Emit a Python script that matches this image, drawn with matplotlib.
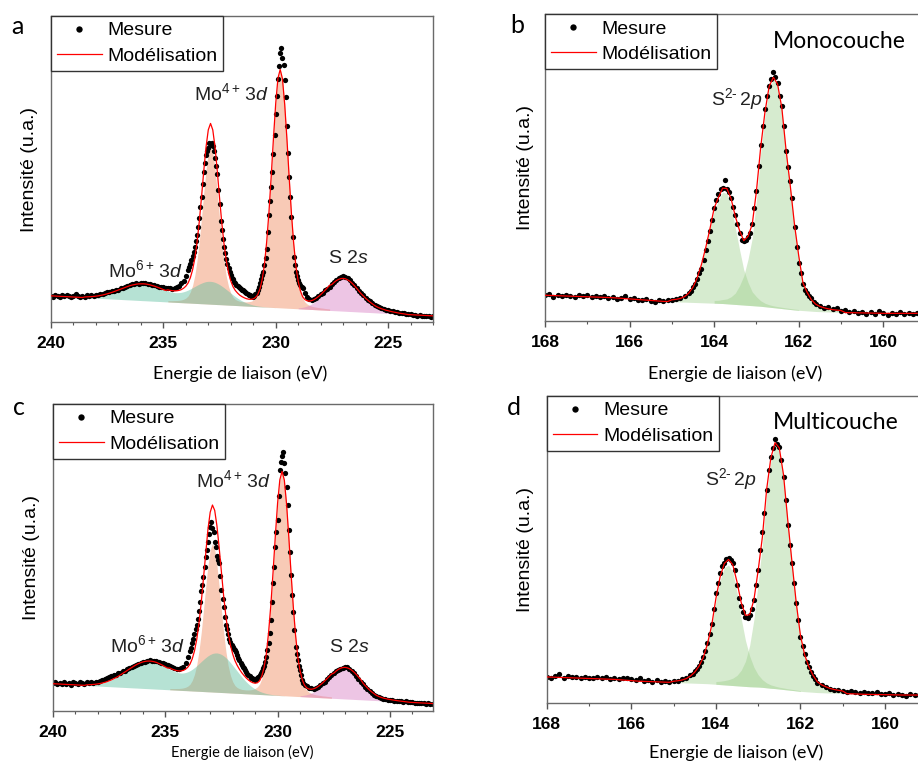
import matplotlib
matplotlib.use('Agg')
import matplotlib.pyplot as plt
from matplotlib.ticker import MultipleLocator
import numpy as np

plt.rcParams['font.family'] = 'Liberation Sans'
plt.rcParams['mathtext.fontset'] = 'custom'
plt.rcParams['mathtext.rm'] = 'Liberation Sans'
plt.rcParams['mathtext.it'] = 'Liberation Sans:italic'

W, H = 918, 764

# ---- energy grids (eV) ----
E_MO = np.arange(2400, 2229, -1) / 10                      # 240.0 -> 223.0, fit grid
E_MO_MEAS = np.concatenate([np.arange(2400, 2338, -1) / 10,   # 240.0 -> 233.9
                            np.arange(23385, 22880, -5) / 100,  # 233.85 -> 228.85
                            np.arange(2288, 2229, -1) / 10])    # 228.8 -> 223.0
E_S = np.arange(1680, 1591, -1) / 10                        # 168.0 -> 159.2, fit grid
E_S_MEAS = np.concatenate([np.arange(1680, 1646, -1) / 10,   # 168.0 -> 164.7
                           np.arange(16460, 16155, -5) / 100,  # 164.60 -> 161.60
                           np.arange(1615, 1591, -1) / 10])    # 161.5 -> 159.2

# ---- panel a : Mo 3d monolayer (intensity in % of axis height) ----
MEAS_A = [8.6, 8.3, 8.8, 8.5, 8.2, 8.7, 8.4, 8.9, 8.5, 8.2,
          8.6, 9.0, 8.4, 8.1, 8.5, 8.3, 8.7, 8.4, 8.8, 8.6,
          8.9, 8.8, 9.2, 9.1, 9.5, 9.7, 9.9, 10.1, 10.2, 10.5,
          10.6, 11.0, 11.2, 11.5, 11.8, 12.1, 12.3, 12.5, 12.6, 12.5,
          12.8, 12.6, 12.7, 12.4, 12.4, 12.1, 12.0, 11.7, 11.6, 11.4,
          11.3, 11.1, 11.0, 11.1, 10.9, 11.2, 11.5, 11.9, 12.6, 13.5,
          15.0, 17.0,
          18.0, 19.0, 20.2, 21.5, 23.0, 24.5, 26.5, 28.5, 31.0, 34.0,
          37.5, 41.0, 45.0, 49.0, 52.0, 54.5, 56.0, 57.0, 58.4, 58.0,
          58.6, 57.5, 56.0, 53.5, 51.0, 48.5, 43.0, 38.5, 33.0, 30.0,
          27.0, 24.5, 22.5, 20.5, 19.0, 17.5, 16.5, 15.5, 14.5, 14.0,
          13.2, 12.6, 12.2, 11.8, 11.4, 11.1, 10.8, 10.5, 10.3, 10.0,
          9.7, 9.4, 9.1, 8.9, 8.7, 8.5, 8.4, 8.3, 8.5, 9.0,
          9.6, 10.3, 11.3, 12.6, 14.0, 15.5, 16.5, 18.5, 21.0, 24.0,
          29.5, 35.0, 39.5, 44.0, 49.0, 55.0, 61.0, 68.0, 74.0, 79.5,
          83.5, 87.8, 89.4, 86.2, 84.0, 79.0, 73.5, 64.0, 55.1, 47.5,
          40.9, 34.4, 27.9, 21.3, 18.5, 16.5, 15.0, 13.7, 12.8, 12.0,
          11.4,
          11.0, 9.6, 8.2, 7.5, 7.2, 7.4, 7.9, 8.4, 9.0, 9.6,
          10.3, 10.9, 11.6, 12.3, 13.0, 13.7, 14.3, 14.8, 14.9, 14.7,
          14.3, 13.6, 12.8, 12.0, 11.1, 10.2, 9.5, 8.8, 8.0, 7.3,
          6.7, 6.1, 5.6, 5.2, 4.9, 4.5, 4.3, 4.0, 3.9, 3.6,
          3.5, 3.2, 3.3, 3.0, 2.8, 2.9, 2.6, 2.5, 2.6, 2.3,
          2.4, 2.1, 2.2, 2.0, 1.9, 2.1, 1.8, 1.7, 1.9]
BASE_A = [8.55, 8.51, 8.47, 8.43, 8.40, 8.36, 8.32, 8.28, 8.24, 8.20,
          8.17, 8.13, 8.09, 8.05, 8.01, 7.97, 7.94, 7.90, 7.86, 7.82,
          7.78, 7.74, 7.71, 7.67, 7.63, 7.59, 7.55, 7.51, 7.47, 7.44,
          7.40, 7.36, 7.32, 7.28, 7.24, 7.21, 7.17, 7.13, 7.09, 7.05,
          7.01, 6.97, 6.94, 6.90, 6.86, 6.82, 6.78, 6.74, 6.71, 6.67,
          6.63, 6.59, 6.55, 6.51, 6.47, 6.44, 6.40, 6.36, 6.32, 6.28,
          6.24, 6.21, 6.17, 6.13, 6.09, 6.05, 6.01, 5.97, 5.94, 5.90,
          5.86, 5.82, 5.78, 5.74, 5.70, 5.67, 5.63, 5.59, 5.55, 5.51,
          5.47, 5.44, 5.40, 5.36, 5.32, 5.28, 5.24, 5.20, 5.17, 5.13,
          5.09, 5.05, 5.01, 4.97, 4.94, 4.90, 4.86, 4.82, 4.78, 4.74,
          4.70, 4.67, 4.63, 4.59, 4.55, 4.51, 4.47, 4.44, 4.40, 4.36,
          4.32, 4.28, 4.24, 4.20, 4.17, 4.13, 4.09, 4.05, 4.01, 3.97,
          3.93, 3.90, 3.86, 3.82, 3.78, 3.74, 3.70, 3.67, 3.63, 3.59,
          3.55, 3.51, 3.47, 3.43, 3.40, 3.36, 3.32, 3.28, 3.24, 3.20,
          3.16, 3.13, 3.09, 3.05, 3.01, 2.97, 2.93, 2.90, 2.86, 2.82,
          2.78, 2.74, 2.70, 2.66, 2.63, 2.59, 2.55, 2.51, 2.47, 2.43,
          2.39, 2.36, 2.32, 2.28, 2.24, 2.20, 2.16, 2.13, 2.09, 2.05,
          2.01]
MO6_A_START = 238.5
MO6_A = [0.21, 0.27, 0.34, 0.43, 0.53, 0.66, 0.80, 0.97, 1.16, 1.37,
         1.61, 1.86, 2.14, 2.44, 2.75, 3.07, 3.40, 3.72, 4.04, 4.35,
         4.63, 4.88, 5.09, 5.27, 5.40, 5.47, 5.51, 5.48, 5.41, 5.29,
         5.13, 4.94, 4.72, 4.48, 4.22, 3.97, 3.74, 3.53, 3.37, 3.25,
         3.18, 3.18, 3.25, 3.38, 3.61, 3.89, 4.23, 4.63, 5.07, 5.51,
         5.96, 6.38, 6.75, 7.06, 7.31, 7.44, 7.47, 7.39, 7.22, 6.93,
         6.56, 6.11, 5.62, 5.08, 4.54, 3.97, 3.43, 2.92, 2.45, 2.01,
         1.64, 1.32, 1.04, 0.81, 0.62, 0.46, 0.34, 0.25, 0.18, 0.13,
         0.09, 0.06, 0.04, 0.03, 0.02, 0.01]
MO4_A_START = 234.8
MO4_A = [0.43, 0.46, 0.51, 0.57, 0.63, 0.73, 0.89, 1.15, 1.57, 2.29,
         3.64, 5.80, 9.15, 14.1, 20.5, 28.2, 36.5, 44.0, 49.5, 51.6,
         49.6, 44.2, 36.7, 28.4, 20.7, 14.3, 9.42, 6.11, 3.98, 2.68,
         2.00, 1.66, 1.44, 1.37, 1.35, 1.37, 1.47, 1.65, 2.01, 2.60,
         3.66, 5.65, 8.90, 13.9, 21.4, 31.1, 42.8, 55.3, 66.7, 75.0,
         77.9, 74.9, 66.6, 55.2, 42.7, 31.0, 21.3, 13.8, 8.73, 5.45,
         3.43, 2.34, 1.70, 1.31, 1.08, 0.92, 0.84, 0.76, 0.68, 0.63,
         0.56, 0.52, 0.48]
S2S_A_START = 229.0
S2S_A = [0.29, 0.41, 0.57, 0.78, 1.06, 1.39, 1.82, 2.32, 2.91, 3.58,
         4.33, 5.14, 5.99, 6.87, 7.73, 8.53, 9.26, 9.87, 10.3, 10.6,
         10.7, 10.6, 10.3, 9.87, 9.26, 8.53, 7.73, 6.87, 6.0, 5.3,
         4.6, 4.0, 3.4, 2.9, 2.4, 2.0, 1.7, 1.45, 1.25, 1.05,
         0.9, 0.75, 0.62, 0.5, 0.4, 0.3, 0.22, 0.15, 0.1]

# ---- panel c : Mo 3d multilayer ----
MEAS_C = [8.9, 9.3, 8.6, 9.1, 8.8, 9.4, 8.7, 9.0, 8.5, 9.2,
          8.9, 8.6, 9.3, 9.0, 8.8, 9.4, 9.1, 9.3, 9.0, 9.5,
          9.4, 9.8, 10.0, 10.4, 10.6, 10.9, 11.2, 11.5, 11.8, 12.2,
          12.4, 12.8, 13.1, 13.5, 13.8, 14.2, 14.5, 14.9, 15.2, 15.5,
          15.8, 16.0, 16.2, 16.4, 16.3, 16.2, 16.1, 15.8, 15.6, 15.4,
          15.1, 14.8, 14.5, 14.2, 13.9, 13.6, 13.6, 13.8, 14.4, 15.4,
          17.5, 19.5,
          20.5, 22.0, 23.5, 25.0, 26.5, 28.0, 30.0, 32.5, 35.5, 39.0,
          41.0, 43.5, 47.0, 50.0, 52.5, 55.0, 57.5, 60.0, 61.6, 59.5,
          58.4, 55.0, 53.5, 50.5, 49.1, 48.0, 44.0, 39.4, 36.5, 33.9,
          30.5, 28.0, 26.5, 25.0, 23.5, 22.5, 21.5, 20.8, 20.2, 19.8,
          19.0, 18.0, 17.2, 16.5, 15.7, 15.0, 14.4, 13.8, 13.2, 12.6,
          12.1, 11.6, 11.2, 10.8, 10.5, 10.3, 10.2, 10.1, 10.3, 10.6,
          11.1, 11.8, 12.3, 13.0, 13.8, 14.6, 16.0, 17.5, 19.8, 22.0,
          25.2, 29.6, 35.5, 41.5, 47.0, 53.5, 58.4, 62.2, 70.0, 78.5,
          81.0, 83.0, 84.5, 80.9, 77.6, 73.0, 67.0, 58.9, 51.8, 44.2,
          37.7, 32.3, 26.3, 20.9, 18.5, 16.5, 14.5, 13.3, 11.5, 10.0,
          8.9,
          8.3, 7.9, 7.5, 7.3, 7.2, 7.4, 7.8, 8.3, 8.9, 9.5,
          10.2, 10.9, 11.5, 12.2, 12.8, 13.3, 13.7, 14.0, 14.2, 14.1,
          13.6, 13.0, 12.2, 11.3, 10.4, 9.5, 8.6, 7.8, 7.0, 6.3,
          5.7, 5.2, 4.7, 4.4, 4.1, 3.9, 3.7, 3.6, 3.5, 3.4,
          3.3, 3.2, 3.1, 3.0, 2.9, 3.0, 2.8, 2.8, 2.7, 2.6,
          2.5, 2.6, 2.4, 2.4, 2.3, 2.4, 2.2, 2.3, 2.2]
BASE_C = [8.80, 8.76, 8.72, 8.69, 8.65, 8.61, 8.57, 8.53, 8.49, 8.46,
          8.42, 8.38, 8.34, 8.30, 8.27, 8.23, 8.19, 8.15, 8.11, 8.07,
          8.04, 8.00, 7.96, 7.92, 7.88, 7.85, 7.81, 7.77, 7.73, 7.69,
          7.65, 7.62, 7.58, 7.54, 7.50, 7.46, 7.42, 7.39, 7.35, 7.31,
          7.27, 7.23, 7.20, 7.16, 7.12, 7.08, 7.04, 7.00, 6.97, 6.93,
          6.89, 6.85, 6.81, 6.78, 6.74, 6.70, 6.66, 6.62, 6.58, 6.55,
          6.51, 6.47, 6.43, 6.39, 6.35, 6.32, 6.28, 6.24, 6.20, 6.16,
          6.13, 6.09, 6.05, 6.01, 5.97, 5.93, 5.90, 5.86, 5.82, 5.78,
          5.74, 5.70, 5.67, 5.63, 5.59, 5.55, 5.51, 5.48, 5.44, 5.40,
          5.36, 5.32, 5.28, 5.25, 5.21, 5.17, 5.13, 5.09, 5.06, 5.02,
          4.98, 4.94, 4.90, 4.86, 4.83, 4.79, 4.75, 4.71, 4.67, 4.63,
          4.60, 4.56, 4.52, 4.48, 4.44, 4.41, 4.37, 4.33, 4.29, 4.25,
          4.21, 4.18, 4.14, 4.10, 4.06, 4.02, 3.99, 3.95, 3.91, 3.87,
          3.83, 3.79, 3.76, 3.72, 3.68, 3.64, 3.60, 3.57, 3.53, 3.49,
          3.45, 3.41, 3.37, 3.34, 3.30, 3.26, 3.22, 3.18, 3.15, 3.11,
          3.07, 3.03, 2.99, 2.95, 2.92, 2.88, 2.84, 2.80, 2.76, 2.73,
          2.69, 2.65, 2.61, 2.57, 2.53, 2.50, 2.46, 2.42, 2.38, 2.34,
          2.30]
MO6_C_START = 238.5
MO6_C = [0.21, 0.27, 0.35, 0.44, 0.56, 0.70, 0.87, 1.08, 1.31, 1.58,
         1.89, 2.24, 2.63, 3.05, 3.50, 4.00, 4.50, 5.03, 5.56, 6.09,
         6.62, 7.11, 7.57, 7.98, 8.33, 8.63, 8.84, 8.98, 9.03, 9.00,
         8.89, 8.71, 8.44, 8.15, 7.80, 7.44, 7.06, 6.69, 6.35, 6.07,
         5.85, 5.71, 5.66, 5.72, 5.89, 6.18, 6.58, 7.07, 7.66, 8.32,
         9.02, 9.74, 10.45, 11.12, 11.72, 12.20, 12.57, 12.76, 12.82, 12.69,
         12.43, 11.98, 11.41, 10.71, 9.91, 9.05, 8.15, 7.24, 6.35, 5.49,
         4.69, 3.94, 3.26, 2.67, 2.16, 1.71, 1.35, 1.04, 0.79, 0.60,
         0.44, 0.33, 0.23, 0.17, 0.11, 0.09, 0.06, 0.04, 0.03]
MO4_C_START = 234.8
MO4_C = [0.41, 0.44, 0.48, 0.54, 0.59, 0.69, 0.84, 1.08, 1.48, 2.15,
         3.42, 5.44, 8.58, 13.2, 19.2, 26.5, 34.2, 41.3, 46.4, 48.4,
         46.5, 41.4, 34.4, 26.7, 19.4, 13.4, 8.82, 5.72, 3.73, 2.51,
         1.88, 1.55, 1.35, 1.29, 1.26, 1.28, 1.38, 1.56, 1.89, 2.44,
         3.43, 5.31, 8.34, 13.0, 20.1, 29.2, 40.1, 51.9, 62.6, 70.3,
         73.1, 70.3, 62.5, 51.8, 40.0, 29.1, 20.0, 12.9, 8.18, 5.12,
         3.22, 2.19, 1.60, 1.24, 1.01, 0.86, 0.79, 0.72, 0.63, 0.59,
         0.53, 0.49, 0.45]
S2S_C_START = 229.0
S2S_C = [0.28, 0.39, 0.55, 0.75, 1.02, 1.34, 1.75, 2.24, 2.80, 3.45,
         4.17, 4.94, 5.77, 6.61, 7.44, 8.21, 8.91, 9.50, 9.93, 10.2,
         10.3, 10.2, 9.93, 9.50, 8.91, 8.21, 7.44, 6.61, 5.5, 4.7,
         4.0, 3.3, 2.7, 2.2, 1.7, 1.4, 1.15, 0.95, 0.8, 0.68,
         0.58, 0.5, 0.42, 0.35, 0.28, 0.22, 0.16, 0.11, 0.07]

# ---- panel b : S 2p monolayer ----
MEAS_B = [8.6, 8.9, 7.9, 8.4, 8.0, 8.6, 8.3, 7.9, 8.5, 8.1,
          8.4, 7.8, 8.2, 7.7, 8.0, 7.6, 7.9, 7.2, 7.6, 8.0,
          7.3, 7.5, 7.0, 6.9, 7.3, 6.6, 6.2, 6.8, 6.5, 6.9,
          7.0, 7.3, 7.5, 8.1,
          9.0, 9.8, 11.0, 12.0, 13.6, 15.5, 17.0, 20.0, 23.0, 26.0,
          29.5, 33.0, 37.0, 39.5, 41.5, 43.0, 43.5, 46.0, 43.0, 42.0,
          40.0, 37.3, 34.5, 31.5, 28.6, 26.5, 26.0, 26.4, 27.5, 28.6,
          31.5, 37.0, 42.5, 50.5, 57.5, 63.5, 69.0, 73.5, 76.5, 79.0,
          81.3, 79.5, 77.5, 73.5, 70.0, 63.5, 55.5, 50.3, 45.5, 40.0,
          30.7, 24.2, 19.0, 15.5, 12.0, 10.0, 9.0, 8.0, 7.4, 6.3,
          5.4,
          5.0, 4.3, 4.6, 3.9, 4.1, 3.2, 3.5, 2.9, 3.2, 2.6,
          3.0, 2.4, 2.8, 2.3, 3.3, 2.5, 2.1, 2.7, 2.4, 2.9,
          2.3, 2.6, 2.2, 2.5]
BASE_B = [8.4, 8.35, 8.3, 8.25, 8.2, 8.15, 8.1, 8.05, 8.0, 7.95,
          7.9, 7.85, 7.8, 7.75, 7.7, 7.65, 7.6, 7.5, 7.4, 7.3,
          7.2, 7.1, 7.0, 6.9, 6.8, 6.7, 6.6, 6.5, 6.4, 6.35,
          6.3, 6.25, 6.2, 6.15, 6.1, 6.05, 6.0, 5.95, 5.9, 5.85,
          5.8, 5.75, 5.7, 5.6, 5.5, 5.4, 5.3, 5.2, 5.1, 5.0,
          4.9, 4.8, 4.65, 4.5, 4.35, 4.2, 4.05, 3.9, 3.75, 3.6,
          3.5, 3.4, 3.3, 3.2, 3.1, 3.05, 3.0, 2.95, 2.9, 2.85,
          2.8, 2.75, 2.7, 2.7, 2.65, 2.65, 2.6, 2.6, 2.55, 2.55,
          2.5, 2.5, 2.5, 2.5, 2.5, 2.5, 2.5, 2.5, 2.5]
S2P12_B_START = 165.0
S2P12_B = [0.6, 0.8, 1.15, 1.8, 3.0, 5.0, 8.1, 12.5, 18.0, 24.2,
           30.1, 33.5, 36.3, 36.0, 32.0, 25.0, 18.0, 11.5, 7.5, 4.5,
           3.0, 1.8, 1.15, 0.8, 0.6, 0.5, 0.43, 0.36, 0.32, 0.29,
           0.25]
S2P32_B_START = 164.0
S2P32_B = [0.9, 1.0, 1.3, 1.6, 2.4, 3.7, 6.2, 9.5, 15.0, 22.0,
           34.5, 50.0, 62.2, 71.2, 74.5, 72.5, 65.0, 51.5, 40.0, 27.5,
           17.5, 9.0, 6.0, 3.7, 2.4, 1.7, 1.3, 1.0, 0.8, 0.7,
           0.6]

# ---- panel d : S 2p multilayer ----
MEAS_D = [8.5, 8.2, 8.7, 9.5, 8.0, 8.6, 8.3, 8.4, 8.1, 8.5,
          8.2, 7.9, 8.3, 8.0, 8.4, 7.8, 8.1, 7.7, 8.0, 7.9,
          7.6, 7.5, 7.9, 7.2, 7.4, 6.9, 7.3, 6.6, 7.1, 6.8,
          7.0, 7.2, 7.6, 8.0,
          8.9, 9.4, 10.2, 11.0, 12.0, 13.2, 14.8, 16.8, 19.5, 22.5,
          25.5, 30.5, 35.7, 39.0, 42.2, 44.5, 45.6, 46.8, 47.1, 46.5,
          45.5, 43.3, 38.5, 34.0, 31.5, 29.7, 28.0, 27.5, 28.6, 30.5,
          33.5, 38.4, 43.3, 49.8, 55.8, 62.0, 69.4, 76.0, 80.0, 83.0,
          86.0, 84.5, 83.5, 79.1, 73.5, 66.0, 58.0, 51.5, 45.5, 39.0,
          32.5, 27.0, 21.5, 18.5, 15.8, 13.4, 11.5, 10.0, 8.8, 7.6,
          6.5,
          5.8, 5.0, 4.5, 4.1, 4.3, 3.8, 3.6, 3.9, 3.5, 3.3,
          3.6, 3.2, 3.0, 3.4, 2.9, 2.7, 3.1, 2.5, 2.8, 2.6,
          2.3, 2.7, 2.5, 2.4]
BASE_D = [8.4, 8.35, 8.3, 8.25, 8.2, 8.15, 8.1, 8.05, 8.0, 7.95,
          7.9, 7.85, 7.8, 7.75, 7.7, 7.65, 7.6, 7.5, 7.4, 7.3,
          7.2, 7.1, 7.0, 6.95, 6.9, 6.85, 6.8, 6.75, 6.7, 6.65,
          6.6, 6.55, 6.5, 6.45, 6.4, 6.35, 6.3, 6.25, 6.2, 6.1,
          6.0, 5.9, 5.8, 5.7, 5.6, 5.5, 5.4, 5.3, 5.2, 5.15,
          5.1, 5.0, 4.85, 4.7, 4.6, 4.45, 4.3, 4.15, 4.0, 3.85,
          3.7, 3.6, 3.5, 3.4, 3.3, 3.25, 3.2, 3.15, 3.1, 3.05,
          3.0, 2.95, 2.9, 2.85, 2.8, 2.75, 2.7, 2.7, 2.65, 2.65,
          2.6, 2.6, 2.55, 2.55, 2.5, 2.5, 2.5, 2.5, 2.5]
S2P12_D_START = 165.0
S2P12_D = [0.4, 0.6, 0.9, 1.4, 2.3, 3.6, 5.6, 8.4, 12.9, 19.0,
           27.0, 34.0, 38.2, 39.2, 37.0, 30.5, 22.0, 15.0, 10.0, 6.4,
           4.0, 2.5, 1.6, 1.1, 0.8, 0.6, 0.5, 0.4, 0.35, 0.3,
           0.25]
S2P32_D_START = 164.0
S2P32_D = [0.9, 1.1, 1.4, 1.8, 2.4, 3.4, 5.2, 8.2, 13.5, 22.0,
           34.0, 46.5, 63.0, 74.0, 79.4, 78.0, 69.5, 55.0, 41.5, 28.5,
           18.0, 12.0, 8.2, 5.5, 3.5, 2.6, 2.0, 1.5, 1.2, 1.0,
           0.8]

ORANGE = '#F08A5D'
TEAL = '#5FBFA0'
PINK = '#D97FC4'
SGREEN = '#9ACD88'

fig = plt.figure(figsize=(W / 100, H / 100), dpi=100)


def rect(l, t, r, b):
    return [l / W, 1 - b / H, (r - l) / W, (b - t) / H]


def ftext(x, y, s, **kw):
    fig.text(x / W, 1 - y / H, s, **kw)


def check(name, arr, n):
    if len(arr) != n:
        raise ValueError(f'{name}: {len(arr)} values, expected {n}')


def panel(box, xlim, ticks, grid, base, comps, e_meas, meas, cut_right=False):
    ax = fig.add_axes(rect(*box))
    check('base', base, len(grid))
    check('meas', meas, len(e_meas))
    base = np.asarray(base)
    model = base.copy()
    for start, vals, color, alpha in comps:
        i = int(np.argmin(np.abs(grid - start)))
        n = len(vals)
        v = np.asarray(vals)
        ax.fill_between(grid[i:i + n], base[i:i + n], base[i:i + n] + v,
                        color=color, alpha=alpha, lw=0, zorder=1)
        model[i:i + n] += v
    ax.plot(e_meas, meas, 'o', color='black', ms=3.8, mew=0, zorder=2, label='Mesure')
    ax.plot(grid, model, '-', color='red', lw=0.9, zorder=3, label='Modélisation')
    ax.set_xlim(*xlim)
    ax.set_ylim(0, 100)
    ax.set_yticks([])
    ax.set_xticks(ticks, labels=[str(t) for t in ticks], fontweight='bold', fontsize=12.5)
    ax.xaxis.set_minor_locator(MultipleLocator(1))
    ax.tick_params(axis='x', which='major', direction='out', length=4, width=1,
                   color='#555555', pad=6)
    ax.tick_params(axis='x', which='minor', direction='out', length=2.5, width=0.8,
                   color='#555555')
    for sp in ax.spines.values():
        sp.set_color('#6a6a6a')
        sp.set_linewidth(1.0)
    if cut_right:
        ax.spines['right'].set_visible(False)
    leg = ax.legend(loc='upper left', bbox_to_anchor=(0, 1), borderaxespad=0,
                    fontsize=14, fancybox=False, framealpha=1, edgecolor='#333333',
                    numpoints=1, handlelength=2.3, handletextpad=0.3,
                    borderpad=0.3, labelspacing=0.4, markerscale=1.2)
    leg.get_frame().set_linewidth(1.0)
    return ax


panel((51, 16, 433, 322), (240, 223.0), [240, 235, 230, 225], E_MO, BASE_A,
      [(MO4_A_START, MO4_A, ORANGE, 0.45), (MO6_A_START, MO6_A, TEAL, 0.45),
       (S2S_A_START, S2S_A, PINK, 0.45)], E_MO_MEAS, MEAS_A)
panel((545, 14.3, 918, 321), (168, 159.18), [168, 166, 164, 162, 160], E_S, BASE_B,
      [(S2P12_B_START, S2P12_B, SGREEN, 0.4), (S2P32_B_START, S2P32_B, SGREEN, 0.4)],
      E_S_MEAS, MEAS_B, cut_right=True)
panel((53, 404, 433, 710.7), (240, 223.08), [240, 235, 230, 225], E_MO, BASE_C,
      [(MO4_C_START, MO4_C, ORANGE, 0.45), (MO6_C_START, MO6_C, TEAL, 0.45),
       (S2S_C_START, S2S_C, PINK, 0.45)], E_MO_MEAS, MEAS_C)
panel((546.7, 396, 918, 702.7), (168, 159.22), [168, 166, 164, 162, 160], E_S, BASE_D,
      [(S2P12_D_START, S2P12_D, SGREEN, 0.4), (S2P32_D_START, S2P32_D, SGREEN, 0.4)],
      E_S_MEAS, MEAS_D, cut_right=True)

# axis titles
for x, y in [(30, 169), (525, 167), (32, 557), (526, 550)]:
    ftext(x, y, 'Intensité (u.a.)', fontsize=14, rotation=90, ha='center', va='center')
ftext(240, 379, 'Energie de liaison (eV)', family='Lato', fontsize=13, ha='center', va='baseline')
ftext(735, 379, 'Energie de liaison (eV)', family='Lato', fontsize=13, ha='center', va='baseline')
ftext(242, 757, 'Energie de liaison (eV)', family='Lato', fontsize=10.5, ha='center', va='baseline')
ftext(736, 758, 'Energie de liaison (eV)', family='Lato', fontsize=13, ha='center', va='baseline')

# panel letters and titles
for x, y, s in [(11, 34, 'a'), (510, 33, 'b'), (13, 415, 'c'), (507, 415, 'd')]:
    ftext(x, y, s, family='Lato', fontsize=18, va='baseline')
ftext(773, 48, 'Monocouche', family='Lato', fontsize=16.5, va='baseline')
ftext(773, 429, 'Multicouche', family='Lato', fontsize=16.5, va='baseline')

# peak annotations
mo4 = r'Mo$^{4+}\,$3$\mathit{d}$'
mo6 = r'Mo$^{6+}\,$3$\mathit{d}$'
s2s = r'S 2$\mathit{s}$'
s2p = 'S$^{2\u2010}\\,$2$\\mathit{p}$'
for x, y, s in [(194, 100, mo4), (108, 277, mo6), (328, 263, s2s), (711, 105, s2p),
                (196, 487, mo4), (110, 652, mo6), (329, 652, s2s), (705, 485, s2p)]:
    ftext(x, y, s, fontsize=14, va='baseline', color='#222222')

fig.savefig('out.png', dpi=100)
